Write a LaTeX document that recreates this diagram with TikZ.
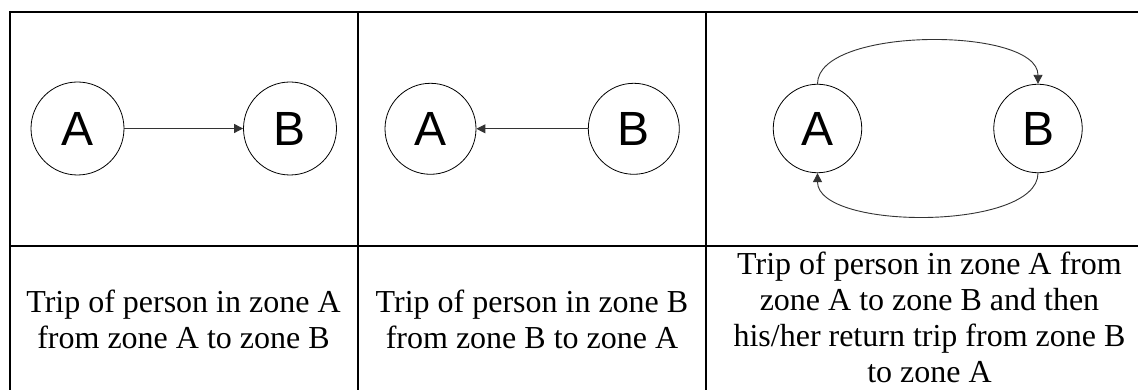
\documentclass[tikz,border=0pt]{standalone}
\usepackage{fontspec}
\setmainfont{Liberation Serif}
\newfontfamily\labelfont{Liberation Sans}
\usetikzlibrary{arrows.meta}
\begin{document}
\begin{tikzpicture}[x=1pt,y=1pt,
  zone/.style={circle,draw=black,line width=0.8pt,inner sep=0pt,
    font=\labelfont\fontsize{48}{48}\selectfont},
  trip/.style={draw=black!80,line width=0.9pt,-{Triangle[length=9pt,width=9pt]}},
  rule/.style={line width=2pt,black},
  caption/.style={align=center,inner sep=0pt,anchor=north,
    font=\fontsize{32}{36.2}\selectfont}]
\useasboundingbox (0,0) rectangle (1138,390);
\clip (0,0) rectangle (1138,390);
\fill[white] (0,0) rectangle (1138,390);

% table rules
\draw[rule] (9,378) -- (1138,378);
\draw[rule] (10,144.3) -- (1138,144.3);
\draw[rule] (10,379) -- (10,0);
\draw[rule] (357.7,378) -- (357.7,0);
\draw[rule] (706,378) -- (706,0);

% one-way trip A to B
\node[zone,minimum size=93pt] (a1) at (77.5,261.5) {A};
\node[zone,minimum size=93pt] (b1) at (290,261.5) {B};
\draw[trip] (a1) -- (b1);

% one-way trip B to A
\node[zone,minimum size=91pt] (a2) at (430.5,261.2) {A};
\node[zone,minimum size=91pt] (b2) at (633.8,261.2) {B};
\draw[trip] (b2) -- (a2);

% round trip
\node[zone,minimum size=88.5pt] (a3) at (817.5,261.5) {A};
\node[zone,minimum size=88.5pt] (b3) at (1038,261.5) {B};
\draw[trip] (a3.north) to[out=90,in=90,looseness=0.67] (b3.north);
\draw[trip] (b3.south) to[out=-90,in=-90,looseness=0.67] (a3.south);

% captions
\node[caption] (c1) at (183.5,100.3) {Trip of person in zone A\\from zone A to zone B};
\node[caption] (c2) at (532,100.3) {Trip of person in zone B\\from zone B to zone A};
\node[caption] (c3) at (929.5,138.5) {Trip of person in zone A from\\zone A to zone B and then\\his/her return trip from zone B\\to zone A};
\end{tikzpicture}
\end{document}
